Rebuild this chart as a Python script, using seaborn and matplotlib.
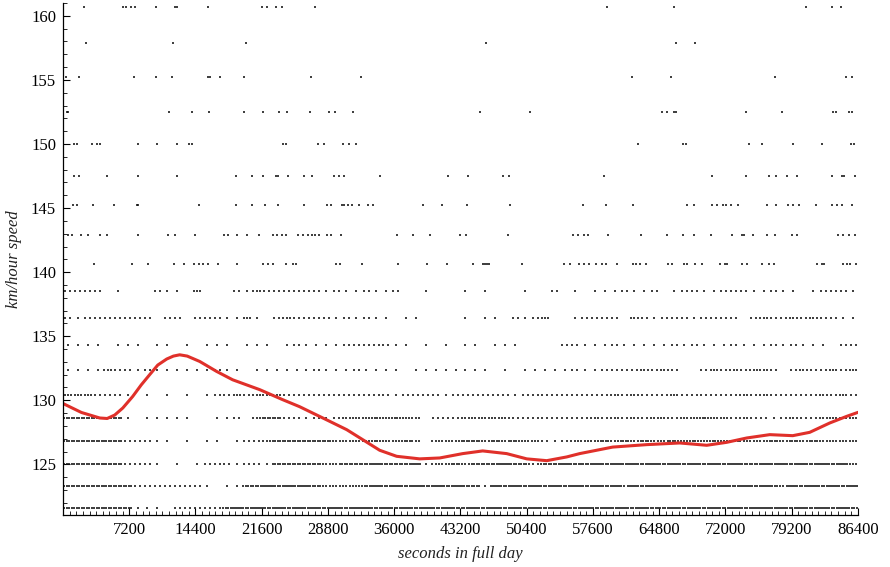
import numpy as np
import pandas as pd
import matplotlib
matplotlib.use("Agg")
import matplotlib.pyplot as plt
import seaborn as sns
from matplotlib.ticker import MultipleLocator, FixedLocator

# ---------------- data ----------------
# discrete speed levels (km/h) at which observations fall
levels_sparse = [160.7, 157.9, 155.2, 152.5, 150.0, 147.5, 145.2, 142.9, 140.6]
levels_dense = [138.5, 136.4, 134.3, 132.4, 130.4, 128.6, 126.8, 125.0, 123.3, 121.6]

d160_7 = [2300, 6500, 6800, 7400, 7800, 10100, 12200, 12400, 15800, 21600, 22200, 23200, 23800,
          27400, 59100, 66400, 80700, 83600, 84600]
d157_9 = [2500, 12000, 19900, 46000, 66600, 68700]
d155_2 = [300, 1700, 7700, 10100, 11800, 15800, 16000, 17100, 19700, 27000, 32400, 61800, 66100,
          77400, 85100, 85700]
d152_5 = [400, 500, 11500, 14000, 15900, 19700, 21700, 23500, 24300, 26800, 28900, 29600, 31500,
          45300, 50800, 65100, 65600, 66400, 66600, 74200, 78100, 83700, 84000, 85400, 85700]
d150_0 = [1200, 1500, 3200, 3700, 4000, 8200, 10200, 12400, 13700, 14000, 23900, 24200, 27700,
          28400, 30400, 31100, 31800, 62500, 67400, 67700, 74600, 76000, 79300, 82500, 85600, 86000]
d147_5 = [1200, 1700, 4800, 8200, 12400, 18800, 20500, 21700, 23100, 23400, 24400, 26200, 27100,
          29400, 30000, 30500, 34500, 41800, 44000, 47800, 48500, 58800, 70500, 74200, 76700, 77500,
          78700, 79800, 83600, 84700, 84900, 86100]
d145_2 = [1100, 1500, 3300, 5500, 8000, 8200, 14800, 18800, 20500, 22000, 23400, 26200, 28700,
          29100, 30300, 30500, 31000, 31400, 32200, 33100, 33700, 39100, 41200, 43900, 48600, 56500,
          59000, 61900, 67800, 68600, 70500, 71100, 71700, 72100, 72600, 73400, 76500, 77500, 78800,
          79300, 80000, 81800, 83600, 84100, 84700, 85700]
d142_9 = [500, 1000, 2000, 2700, 4000, 4800, 8200, 11400, 12200, 14300, 17500, 17900, 18900, 20000,
          21300, 22800, 23300, 23800, 24200, 25500, 26100, 26600, 27100, 27400, 27800, 28700, 29100,
          30200, 36300, 38000, 39900, 43100, 43800, 48400, 55400, 56000, 56600, 57100, 59200, 62800,
          65600, 67400, 68600, 70400, 72700, 73800, 74000, 75000, 76500, 77400, 79200, 79800, 84200,
          84800, 85400, 86100]
d140_6 = [3400, 7500, 9200, 12100, 13200, 14200, 14800, 15200, 15800, 16800, 18900, 21700, 22300,
          22800, 24200, 25000, 25300, 29700, 30100, 32500, 36400, 39600, 41700, 44600, 45600, 45900,
          46100, 46300, 49900, 54400, 55100, 56100, 56600, 57200, 57900, 58600, 59000, 60200, 61900,
          62300, 62700, 63400, 65800, 66200, 67500, 67800, 68700, 69500, 71400, 72000, 72200, 73800,
          74300, 76000, 76700, 77300, 81900, 82500, 82700, 84800, 85200, 85500, 86200]

n138_5 = "2222010002" "1103000213" "2222221211" "2112001000" "1010001002" "0101112112" "0122112221" "1211012221"
n136_4 = "2122222220" "2202221131" "0232222121" "2110110000" "1011021230" "0122220321" "2221222202" "3223232211"
n134_3 = "1111011101" "1010111011" "1012111122" "2221101010" "1101110000" "2211121111" "1212111211" "1212111022"
n132_4 = "1111322121" "1111121101" "1111121112" "1111011111" "1110101111" "1211222232" "3200232323" "3202322323"
n130_4 = "3332221010" "1010122323" "3322222222" "2221222212" "2222212222" "2222232322" "2322222232" "3222223232"
n128_6 = "4444441011" "1110011203" "4422121233" "3434330222" "3333322222" "2223232323" "3233433232" "2123223333"
n126_8 = "4444442221" "1010110122" "3444444333" "3433430333" "4434343321" "2333434343" "3434343433" "3434343333"
n125_0 = "4444442221" "0101222122" "1444443344" "4544451334" "3444544244" "5445454545" "4545454544" "5454545453"
n123_3 = "4444444222" "2222101144" "5454543333" "4545454545" "4415454545" "4545453545" "5454545454" "5435454545"
n121_6 = "4444444111" "0222224545" "4545454545" "5454545454" "4545454545" "5454545454" "4545454545" "5454545454"

# smoothed trend (red curve)
trend_x = [0, 2000, 3990, 4800, 5620, 6500, 7575, 8500, 9420, 10300, 11270, 12000, 12680, 13500,
           14860, 16700, 18440, 21380, 23870, 25720, 28980, 30830, 32570, 34420, 36260, 38760,
           40940, 43440, 45610, 48220, 50400, 52570, 54740, 56150, 59740, 63440, 67020, 69960,
           72130, 74310, 76810, 79310, 81150, 83330, 85180, 86400]
trend_y = [129.75, 129.05, 128.62, 128.58, 128.85, 129.4, 130.3, 131.2, 132.0, 132.75, 133.22,
           133.45, 133.55, 133.45, 133.03, 132.25, 131.6, 130.83, 130.05, 129.5, 128.36, 127.71,
           126.93, 126.1, 125.63, 125.43, 125.5, 125.84, 126.05, 125.84, 125.43, 125.29, 125.58,
           125.84, 126.35, 126.54, 126.67, 126.49, 126.72, 127.06, 127.32, 127.24, 127.5, 128.23,
           128.75, 129.06]

x_ticks = [7200, 14400, 21600, 28800, 36000, 43200, 50400, 57600, 64800, 72000, 79200, 86400]
y_ticks = [125, 130, 135, 140, 145, 150, 155, 160]

# ---------------- assemble points ----------------
sparse_lists = [d160_7, d157_9, d155_2, d152_5, d150_0, d147_5, d145_2, d142_9, d140_6]
dense_strings = [n138_5, n136_4, n134_3, n132_4, n130_4, n128_6, n126_8, n125_0, n123_3, n121_6]

xs, ys = [], []
for lev, lst in zip(levels_sparse, sparse_lists):
    xs += lst
    ys += [lev] * len(lst)
BIN = 86400 / 80
for lev, s in zip(levels_dense, dense_strings):
    for i, ch in enumerate(s):
        n = int(ch)
        for j in range(n):
            xs.append((i + (j + 0.5) / n) * BIN)
            ys.append(lev)
pts = pd.DataFrame({"t": xs, "speed": ys})
trend = pd.DataFrame({"t": trend_x, "speed": trend_y})

# ---------------- plot ----------------
sns.set_style("ticks")
plt.rcParams["font.family"] = ["Liberation Serif", "DejaVu Serif"]

fig = plt.figure(figsize=(8.9, 5.67), dpi=100)
ax = fig.add_axes([63 / 890, 52 / 567, 795 / 890, 512 / 567])

sns.scatterplot(data=pts, x="t", y="speed", ax=ax, color="#111111", marker="s",
                s=0.75, linewidth=0, alpha=0.8, legend=False)
sns.lineplot(data=trend, x="t", y="speed", ax=ax, color="#e0302a", linewidth=2.2,
             sort=False, estimator=None)

ax.set_xlim(0, 86400)
ax.set_ylim(121.05, 161.0)
ax.xaxis.set_major_locator(FixedLocator(x_ticks))
ax.xaxis.set_minor_locator(MultipleLocator(720))
ax.yaxis.set_major_locator(FixedLocator(y_ticks))
ax.yaxis.set_minor_locator(MultipleLocator(1))
ax.set_xticklabels([str(v) for v in x_ticks])
ax.set_yticklabels([str(v) for v in y_ticks])

ax.tick_params(which="major", direction="in", length=5, width=0.8, labelsize=12, pad=5, colors="black")
ax.tick_params(which="minor", direction="in", length=2.8, width=0.7)
for side in ["top", "right"]:
    ax.spines[side].set_visible(False)
for side in ["left", "bottom"]:
    ax.spines[side].set_linewidth(0.9)
    ax.spines[side].set_color("black")

ax.set_xlabel("seconds in full day", fontsize=12, fontstyle="italic", color="#222222")
ax.set_ylabel("km/hour speed", fontsize=12, fontstyle="italic", color="#222222")
ax.xaxis.set_label_coords(0.5, -0.060)
ax.yaxis.set_label_coords(-0.051, 0.5)

fig.savefig("out.png", dpi=100)
